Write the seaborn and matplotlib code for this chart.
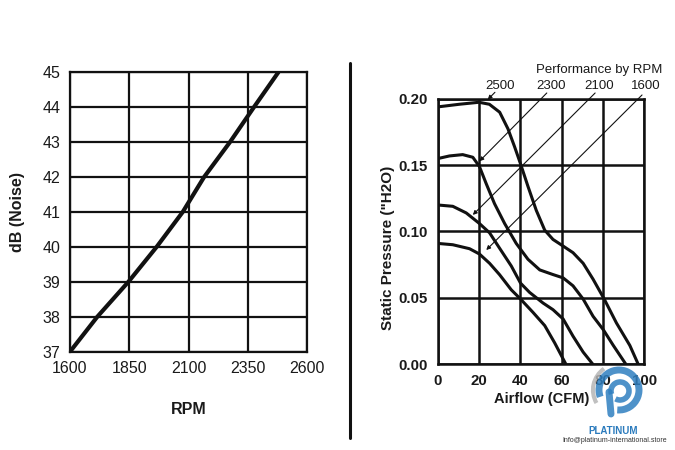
import matplotlib
matplotlib.use("Agg")
import matplotlib.pyplot as plt
import seaborn as sns
import pandas as pd
from matplotlib.lines import Line2D
from matplotlib.patches import Arc

# ---- data: noise vs RPM ----
rpm = [1600, 1715, 1846, 1965, 2075, 2165, 2274, 2375, 2478]
db = [37, 38, 39, 40, 41, 42, 43, 44, 45]
rpm_ticks = [1600, 1850, 2100, 2350, 2600]
db_ticks = [37, 38, 39, 40, 41, 42, 43, 44, 45]

# ---- data: performance curves ----
flow_2500 = [0, 10.5, 20, 25, 30, 34, 37.2, 40.1, 43.7, 47.7, 51.8, 55.8, 60.7, 65.5,
             70.4, 75.2, 80.6, 86.5, 93, 97]
pres_2500 = [0.194, 0.196, 0.1975, 0.196, 0.190, 0.1775, 0.164, 0.151, 0.134, 0.116,
             0.101, 0.094, 0.089, 0.084, 0.076, 0.064, 0.049, 0.031, 0.014, 0.0]
flow_2300 = [0, 5.7, 12.1, 17, 20.2, 23.5, 27.5, 32.4, 38, 43.7, 49.4, 55.8, 60.7,
             65.5, 70.4, 75.2, 80.1, 85, 91]
pres_2300 = [0.155, 0.157, 0.158, 0.156, 0.149, 0.136, 0.121, 0.106, 0.091, 0.079,
             0.071, 0.0675, 0.065, 0.059, 0.049, 0.036, 0.026, 0.014, 0.0]
flow_2100 = [0, 7.3, 13.8, 20.2, 25.1, 29.9, 35.6, 40.1, 44.5, 51, 55.8, 60.7, 65.5,
             70.4, 75]
pres_2100 = [0.120, 0.119, 0.114, 0.106, 0.099, 0.0875, 0.074, 0.061, 0.054, 0.046,
             0.041, 0.034, 0.021, 0.009, 0.0]
flow_1600 = [0, 7.3, 15.4, 20.2, 25.1, 29.9, 35.6, 40.1, 46.1, 51.8, 56.6, 62]
pres_1600 = [0.091, 0.090, 0.087, 0.083, 0.076, 0.0675, 0.056, 0.049, 0.039, 0.029,
             0.016, 0.0]
rpm_labels = ["2500", "2300", "2100", "1600"]
flow_ticks = [0, 20, 40, 60, 80, 100]
pres_ticks = [0.00, 0.05, 0.10, 0.15, 0.20]

sns.set_style("white")
plt.rcParams['font.family'] = ['Liberation Sans', 'DejaVu Sans']

fig = plt.figure(figsize=(6.75, 4.5), dpi=100)
INK = "#111111"
TXT = "#1a1a1a"

# ---------------- left chart ----------------
ax1 = fig.add_axes([70 / 675, 0.2184, 237.3 / 675, 0.621])
df1 = pd.DataFrame({"RPM": rpm, "dB": db})
sns.lineplot(data=df1, x="RPM", y="dB", ax=ax1, color=INK, lw=3.0, sort=False,
             solid_joinstyle='round', solid_capstyle='round')
ax1.set_xlim(1600, 2600)
ax1.set_ylim(37, 45)
ax1.set_xticks(rpm_ticks)
ax1.set_yticks(db_ticks)
ax1.grid(True, color=INK, lw=1.6)
for s in ax1.spines.values():
    s.set_color(INK)
    s.set_linewidth(1.6)
ax1.tick_params(axis='both', length=3, width=1.4, color=INK, labelsize=11.5,
                labelcolor=TXT, direction='out', pad=4)
ax1.set_xlabel("RPM", fontsize=11.5, fontweight='bold', color=TXT)
ax1.set_ylabel("dB (Noise)", fontsize=11.5, fontweight='bold', color=TXT)
ax1.xaxis.set_label_coords(0.5, -0.18)
ax1.yaxis.set_label_coords(-0.19, 0.5)

# ---------------- right chart ----------------
ax2 = fig.add_axes([437.7 / 675, 0.1911, 206.6 / 675, 0.589])
curves = [(flow_2500, pres_2500), (flow_2300, pres_2300),
          (flow_2100, pres_2100), (flow_1600, pres_1600)]
rows = []
for lab, (fx, py) in zip(rpm_labels, curves):
    for a, b in zip(fx, py):
        rows.append({"Airflow": a, "Pressure": b, "RPM": lab})
df2 = pd.DataFrame(rows)
sns.lineplot(data=df2, x="Airflow", y="Pressure", units="RPM", estimator=None,
             ax=ax2, color=INK, lw=2.2, sort=False,
             solid_joinstyle='round', solid_capstyle='round')
ax2.set_xlim(0, 100)
ax2.set_ylim(0, 0.20)
ax2.set_xticks(flow_ticks)
ax2.set_yticks(pres_ticks)
ax2.set_yticklabels([f"{v:.2f}" for v in pres_ticks])
ax2.grid(True, color=INK, lw=1.8)
for s in ax2.spines.values():
    s.set_color(INK)
    s.set_linewidth(1.8)
ax2.tick_params(axis='both', length=4, width=1.6, color=INK, labelsize=10.8,
                labelcolor=TXT, direction='out', pad=3)
for t in ax2.get_xticklabels() + ax2.get_yticklabels():
    t.set_fontweight('bold')
ax2.set_xlabel("Airflow (CFM)", fontsize=10.5, fontweight='bold', color=TXT)
ax2.set_ylabel('Static Pressure ("H2O)', fontsize=11, fontweight='bold', color=TXT)
ax2.xaxis.set_label_coords(0.504, -0.1045)
ax2.yaxis.set_label_coords(-0.207, 0.44)

# leader lines and labels
leaders = [((27.7, 0.2050), (24.2, 0.1995), 30.2),
           ((52.8, 0.2045), (20.2, 0.1530), 55.0),
           ((76.2, 0.2045), (17.0, 0.1125), 78.2),
           ((98.9, 0.2030), (23.5, 0.0860), 100.5)]
for lab, (p0, p1, lx) in zip(rpm_labels, leaders):
    ax2.annotate("", xy=p1, xytext=p0, xycoords='data', textcoords='data',
                 annotation_clip=False,
                 arrowprops=dict(arrowstyle='-|>', color=INK, lw=0.8,
                                 mutation_scale=6, shrinkA=0, shrinkB=0))
    ax2.text(lx, 0.2095, lab, ha='center', va='center', fontsize=9.5,
             color=TXT, clip_on=False)
ax2.text(78.0, 0.2220, "Performance by RPM", ha='center', va='center',
         fontsize=9.5, color=TXT, clip_on=False)

# separator
fig.add_artist(Line2D([350 / 675, 350 / 675], [12 / 450, 387 / 450],
                      color=INK, lw=2.2))

# watermark logo (approximation) and text
lax = fig.add_axes([585 / 675, (450 - 422) / 450, 66 / 675, 60 / 450])
lax.set_xlim(585, 651)
lax.set_ylim(422, 362)
lax.axis('off')
blue = "#2f7fc0"
lax.add_patch(Arc((619, 390), 40, 40, theta1=-200, theta2=95, color=blue, lw=5, alpha=0.85))
lax.add_patch(Arc((619, 390), 52, 52, theta1=150, theta2=235, color="#b5b5b5", lw=3, alpha=0.85))
lax.plot([609, 611], [392, 414], color=blue, lw=5, solid_capstyle='round', alpha=0.85)
lax.add_patch(Arc((620, 391), 18, 18, theta1=-200, theta2=120, color=blue, lw=4, alpha=0.85))
fig.text(613 / 675, 1 - 431 / 450, "PLATINUM", ha='center', va='center',
         fontsize=7, color="#2b7bbd", fontweight='bold')
fig.text(615 / 675, 1 - 441 / 450, "Info@platinum-international.store",
         ha='center', va='center', fontsize=5, color="#333333")

fig.savefig("out.png", dpi=100, facecolor="white")
